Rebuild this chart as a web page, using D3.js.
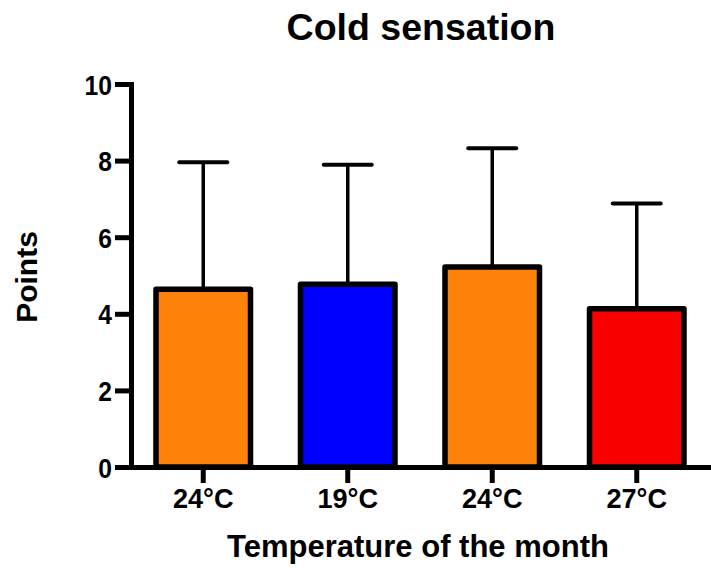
<!DOCTYPE html>
<html>
<head>
<meta charset="utf-8">
<script src="https://cdn.jsdelivr.net/npm/d3@7/dist/d3.min.js"></script>
<style>
  html, body { margin: 0; padding: 0; background: #fff; }
  svg text { font-family: "Liberation Sans", Arial, Helvetica, sans-serif; font-weight: bold; fill: #000; }
</style>
</head>
<body>
<svg id="chart" width="711" height="571"></svg>
<script>
const categories = ["24°C", "19°C", "24°C", "27°C"];
const means = [4.64, 4.77, 5.22, 4.13];
const upperErrors = [7.96, 7.89, 8.32, 6.88];
const barColors = ["#fd820a", "#0000ff", "#fd820a", "#fa0000"];
const yTicks = [0, 2, 4, 6, 8, 10];
const titleText = "Cold sensation";
const xTitle = "Temperature of the month";
const yTitle = "Points";

const svg = d3.select("#chart");

const x = d3.scaleBand()
  .domain(d3.range(categories.length))
  .range([131, 709])
  .paddingInner(0.346)
  .paddingOuter(0.173);

const y = d3.scaleLinear().domain([0, 10]).range([467, 84]);

// Bars
svg.append("g").selectAll("rect")
  .data(means)
  .join("rect")
  .attr("x", (d, i) => x(i))
  .attr("width", x.bandwidth())
  .attr("y", d => y(d))
  .attr("height", d => y(0) - y(d))
  .attr("fill", (d, i) => barColors[i])
  .attr("stroke", "#000")
  .attr("stroke-width", 5.5)
  .attr("stroke-linejoin", "round");

// Error bars (upper only)
const eb = svg.append("g");
eb.selectAll("line.v")
  .data(means)
  .join("line")
  .attr("class", "v")
  .attr("x1", (d, i) => x(i) + x.bandwidth() / 2)
  .attr("x2", (d, i) => x(i) + x.bandwidth() / 2)
  .attr("y1", d => y(d))
  .attr("y2", (d, i) => y(upperErrors[i]))
  .attr("stroke", "#000")
  .attr("stroke-width", 3.5);
eb.selectAll("line.c")
  .data(upperErrors)
  .join("line")
  .attr("class", "c")
  .attr("x1", (d, i) => x(i) + x.bandwidth() / 2 - 24)
  .attr("x2", (d, i) => x(i) + x.bandwidth() / 2 + 24)
  .attr("y1", d => y(d))
  .attr("y2", d => y(d))
  .attr("stroke", "#000")
  .attr("stroke-width", 4)
  .attr("stroke-linecap", "round");

// Y axis
const yAxis = svg.append("g")
  .attr("transform", "translate(131,0)")
  .call(d3.axisLeft(y).tickValues(yTicks).tickSize(16).tickPadding(4).tickSizeOuter(0));
yAxis.select(".domain").attr("stroke-width", 5).attr("stroke-linecap", "square");
yAxis.selectAll(".tick line").attr("stroke-width", 5);
yAxis.selectAll(".tick text")
  .attr("font-size", 28)
  .attr("x", -19 / 0.88)
  .attr("dy", "0.36em")
  .attr("transform", "scale(0.88,1)");

// X axis
const xAxis = svg.append("g")
  .attr("transform", "translate(0,467)")
  .call(d3.axisBottom(x).tickFormat(i => categories[i]).tickSize(16).tickPadding(5).tickSizeOuter(0));
xAxis.select(".domain").attr("stroke-width", 5).attr("stroke-linecap", "square");
xAxis.selectAll(".tick line").attr("stroke-width", 5);
xAxis.selectAll(".tick text")
  .attr("font-size", 28)
  .attr("transform", "scale(0.97,1)");
svg.selectAll(".tick text").attr("fill", "#000").style("font-weight", "bold");

// Titles
svg.append("text")
  .attr("x", 421).attr("y", 40)
  .attr("text-anchor", "middle")
  .attr("font-size", 37.5)
  .text(titleText);

svg.append("text")
  .attr("x", 418).attr("y", 557)
  .attr("text-anchor", "middle")
  .attr("font-size", 31)
  .text(xTitle);

svg.append("text")
  .attr("transform", "translate(37,277) rotate(-90)")
  .attr("text-anchor", "middle")
  .attr("font-size", 30)
  .text(yTitle);
</script>
</body>
</html>
